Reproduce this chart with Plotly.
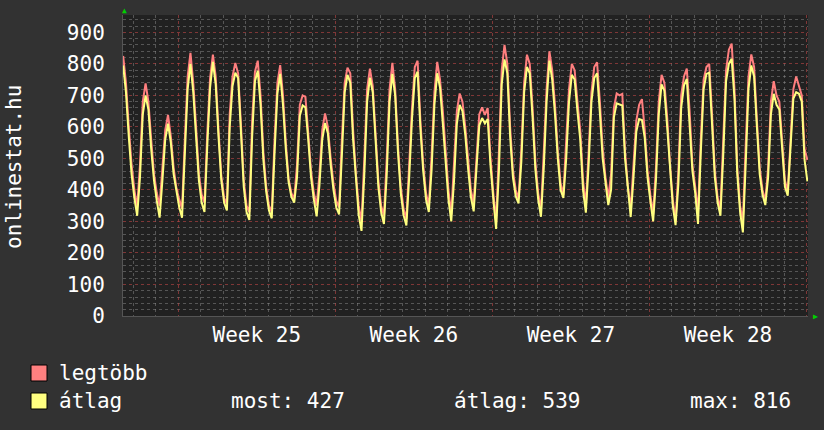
import plotly.graph_objects as go
import pandas as pd

# ---- data (3-hourly samples) ----
start_time = "2010-06-18 13:00"   # Friday before ISO week 25
sample_step = "3h"

# "legtöbb" (maximum) series
legtobb = [
    825, 740, 600, 480,
    400, 345, 480, 680, 738, 680, 560, 450,
    390, 350, 470, 590, 638, 570, 470, 405,
    370, 340, 560, 760, 835, 740, 600, 450,
    385, 360, 580, 755, 829, 760, 590, 445,
    375, 355, 640, 760, 803, 770, 610, 430,
    350, 330, 620, 775, 810, 700, 520, 410,
    350, 330, 560, 740, 796, 700, 550, 435,
    390, 372, 480, 670, 700, 695, 580, 460,
    390, 350, 450, 590, 643, 600, 500, 420,
    365, 345, 560, 740, 788, 770, 590, 450,
    350, 300, 500, 720, 785, 730, 580, 430,
    350, 318, 500, 720, 803, 720, 540, 410,
    340, 308, 480, 660, 790, 810, 620, 480,
    390, 350, 510, 710, 806, 750, 650, 520,
    400, 322, 470, 650, 706, 680, 600, 490,
    400, 358, 500, 640, 662, 638, 660, 500,
    390, 300, 520, 780, 860, 800, 600, 460,
    400, 372, 530, 740, 829, 800, 660, 490,
    390, 335, 520, 720, 840, 780, 670, 520,
    420, 385, 560, 720, 800, 780, 680, 590,
    430, 350, 520, 710, 790, 805, 680, 530,
    440, 375, 450, 660, 706, 700, 705, 520,
    410, 340, 480, 620, 670, 688, 590, 460,
    385, 322, 470, 680, 765, 740, 630, 480,
    370, 300, 460, 700, 760, 785, 650, 480,
    410, 330, 560, 750, 790, 800, 640, 460,
    375, 340, 560, 780, 845, 864, 720, 470,
    350, 300, 540, 760, 830, 790, 620, 470,
    400, 365, 470, 680, 745, 700, 680, 540,
    430, 395, 560, 720, 760, 730, 700, 530,
    495,
]

# "átlag" (average) series
atlag = [
    795, 710, 570, 450,
    375, 318, 440, 640, 700, 655, 530, 430,
    365, 312, 430, 560, 610, 550, 450, 390,
    345, 312, 500, 720, 800, 710, 570, 430,
    360, 330, 540, 725, 806, 735, 570, 430,
    360, 335, 600, 730, 772, 755, 585, 410,
    330, 305, 570, 745, 778, 670, 495, 395,
    335, 310, 520, 705, 768, 670, 530, 425,
    378, 360, 440, 635, 668, 662, 560, 440,
    370, 316, 415, 560, 612, 580, 480, 400,
    345, 322, 510, 710, 765, 740, 560, 430,
    320, 270, 450, 680, 756, 710, 550, 410,
    330, 292, 450, 680, 768, 700, 520, 390,
    320, 287, 440, 625, 755, 775, 595, 460,
    370, 330, 465, 670, 770, 725, 610, 490,
    370, 300, 430, 610, 670, 650, 575, 468,
    378, 332, 465, 605, 628, 611, 625, 478,
    370, 276, 460, 735, 814, 770, 570, 440,
    380, 357, 490, 710, 790, 770, 630, 465,
    370, 315, 470, 680, 810, 750, 640, 500,
    400, 375, 500, 680, 765, 750, 650, 560,
    400, 328, 480, 680, 755, 770, 645, 500,
    425, 352, 400, 630, 675, 672, 668, 498,
    395, 314, 440, 585, 625, 622, 565, 440,
    365, 300, 430, 640, 735, 715, 600, 460,
    350, 288, 420, 660, 732, 752, 615, 460,
    390, 292, 520, 720, 768, 772, 610, 440,
    360, 318, 510, 745, 800, 816, 690, 450,
    330, 265, 480, 720, 795, 760, 600, 450,
    385, 352, 440, 640, 705, 670, 655, 520,
    410, 382, 520, 690, 710, 705, 680, 495,
    427,
]

series_names = ["legtöbb", "átlag"]
series_colors = ["#FF7F7F", "#FFFF80"]
swatch_colors = ["#FF8080", "#FFFF80"]
axis_title = "onlinestat.hu"
week_label_format = "Week %V"
stat_labels = ["most", "átlag", "max"]
stat_values = [427, 539, 816]

# ---- figure ----
times = pd.date_range(start=start_time, periods=len(atlag), freq=sample_step)

W, H = 824, 430
ML, MR, MT, MB = 123, 16, 15, 114
PW, PH = W - ML - MR, H - MT - MB

def px(x):
    return (x - ML) / PW

def py(y):
    return 1 - (y - MT) / PH

FONT = "DejaVu Sans Mono"
FS = 21
fig = go.Figure()
for name, vals, col in zip(series_names, [legtobb, atlag], series_colors):
    fig.add_trace(go.Scatter(x=times, y=vals, mode="lines", name=name,
                             line=dict(color=col, width=2), showlegend=False))

major_grid = "rgba(190,70,70,0.6)"
minor_grid = "rgba(150,150,150,0.45)"

fig.update_layout(
    width=W, height=H,
    margin=dict(l=ML, r=MR, t=MT, b=MB),
    paper_bgcolor="#323232",
    plot_bgcolor="#212121",
    font=dict(family=FONT, size=FS, color="#ffffff"),
    xaxis=dict(
        type="date",
        range=["2010-06-18 12:50", "2010-07-19 01:40"],
        tick0="2010-06-21", dtick=7 * 86400000,
        ticklabelmode="period", tickformat=week_label_format,
        showgrid=True, gridcolor=major_grid, griddash="dot", gridwidth=1,
        minor=dict(dtick=86400000, tick0="2010-06-21", showgrid=True,
                   gridcolor=minor_grid, griddash="dot", gridwidth=1),
        showline=True, linecolor="#555555", zeroline=False,
        tickfont=dict(family=FONT, size=FS, color="#ffffff"),
        ticks="",
    ),
    yaxis=dict(
        range=[0, 955], dtick=100, tick0=0,
        showgrid=True, gridcolor=major_grid, griddash="dot", gridwidth=1,
        minor=dict(dtick=20, showgrid=True, gridcolor=minor_grid,
                   griddash="dot", gridwidth=1),
        showline=True, linecolor="#555555", zeroline=False,
        tickfont=dict(family=FONT, size=FS, color="#ffffff"),
        ticks="", ticklabelstandoff=13,
    ),
)

# y axis title
fig.add_annotation(x=px(14), y=py(167), xref="paper", yref="paper", text=axis_title,
                   textangle=-90, showarrow=False, xanchor="center", yanchor="middle",
                   font=dict(family=FONT, size=FS, color="#ffffff"))

# green axis arrows
fig.add_annotation(x=px(124.5), y=py(11), xref="paper", yref="paper", text="▲",
                   showarrow=False, font=dict(size=8, color="#00d000"),
                   xanchor="center", yanchor="middle")
fig.add_annotation(x=px(815), y=py(316), xref="paper", yref="paper", text="▶",
                   showarrow=False, font=dict(size=8, color="#00d000"),
                   xanchor="center", yanchor="middle")

# legend
rows_y = [373, 401]
for name, sc, ry in zip(series_names, swatch_colors, rows_y):
    fig.add_shape(type="rect", xref="paper", yref="paper",
                  x0=px(31), x1=px(47), y0=py(ry - 8), y1=py(ry + 8),
                  fillcolor=sc, line=dict(color="#000000", width=1))
    fig.add_annotation(x=px(57), y=py(ry), xref="paper", yref="paper", text=name,
                       showarrow=False, xanchor="left", yanchor="middle",
                       font=dict(family=FONT, size=FS, color="#ffffff"))

for lab, val, lx in zip(stat_labels, stat_values, [229, 452, 688]):
    fig.add_annotation(x=px(lx), y=py(rows_y[1]), xref="paper", yref="paper",
                       text=f"{lab}: {val}", showarrow=False, xanchor="left",
                       yanchor="middle",
                       font=dict(family=FONT, size=FS, color="#ffffff"))

fig.write_html("out.html")
